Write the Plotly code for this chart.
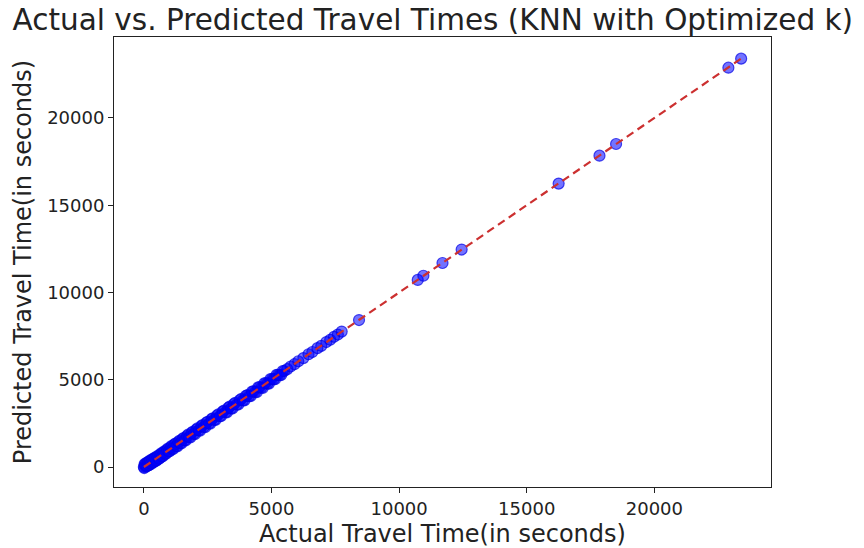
import plotly.graph_objects as go

# Actual vs predicted travel times (seconds)
actual = [0, 30, 60, 90, 130, 170, 210, 250, 300, 350, 400, 450, 500, 560, 620, 680, 740, 800,
          870, 940, 1010, 1080, 1150, 1230, 1310, 1390, 1470, 1550, 1640, 1730, 1820, 1910, 2000,
          2100, 2200, 2300, 2400, 2500, 2600, 2700, 2810, 2920, 3030, 3140, 3250, 3360, 3470,
          3580, 3700, 3820, 3940, 4060, 4180, 4300, 4420, 4540, 4660, 4780, 4900, 5020, 5140,
          5260, 5380, 5500, 5620, 5750, 5900, 6050, 6250, 6450, 6600, 6800, 6950, 7150, 7300,
          7450, 7600, 7750, 8430, 10730, 10950, 11700, 12450, 16250, 17850, 18500, 22900, 23400,
          15, 45, 110, 150, 190, 230, 275, 325, 375, 425, 475, 530, 590, 650, 710, 770, 835,
          905, 975, 1045, 1115, 1190, 1270, 1350, 1430, 1510, 1595, 1685, 1775, 1865, 1955,
          2050, 2150, 2250, 2350, 2450, 2550, 2650, 2755, 2865, 2975, 3085, 3195, 3305, 3415,
          3525, 3640, 3760, 3880, 4000, 4120, 4240, 4360, 4480, 4600, 4720, 4840, 4960, 5080,
          5200, 5320, 5440]
predicted = [0, 170, 20, 230, 60, 300, 120, 380, 190, 460, 300, 560, 380, 650, 500, 780, 620, 900,
             760, 1050, 900, 1200, 1030, 1340, 1180, 1500, 1350, 1660, 1520, 1850, 1690, 2020, 1880,
             2210, 2080, 2400, 2280, 2590, 2480, 2790, 2700, 3020, 2920, 3230, 3130, 3460, 3350,
             3680, 3580, 3900, 3820, 4120, 4060, 4340, 4290, 4580, 4530, 4810, 4780, 5040, 5030,
             5280, 5270, 5500, 5610, 5760, 5890, 6060, 6240, 6460, 6590, 6810, 6940, 7160, 7290,
             7460, 7590, 7760, 8420, 10720, 10960, 11690, 12460, 16240, 17840, 18510, 22880, 23400,
             -60, 120, 40, 250, 110, 330, 200, 420, 280, 500, 360, 580, 470, 720, 610, 840, 760,
             980, 900, 1120, 1050, 1280, 1200, 1430, 1370, 1600, 1530, 1770, 1720, 1950, 1900,
             2140, 2100, 2340, 2300, 2540, 2490, 2740, 2700, 2950, 2910, 3170, 3140, 3390, 3360,
             3610, 3580, 3840, 3820, 4080, 4060, 4320, 4300, 4560, 4540, 4800, 4780, 5040, 5020,
             5280, 5260, 5500]
line_ends = [0, 23400]

x_ticks = [0, 5000, 10000, 15000, 20000]
y_ticks = [0, 5000, 10000, 15000, 20000]

title_text = "Actual vs. Predicted Travel Times (KNN with Optimized k)"
x_title = "Actual Travel Time(in seconds)"
y_title = "Predicted Travel Time(in seconds)"

font_family = "DejaVu Sans"

fig = go.Figure()
fig.add_trace(go.Scatter(
    x=actual, y=predicted, mode="markers",
    marker=dict(size=11, color="rgba(0,0,255,0.55)",
                line=dict(width=1.2, color="rgba(0,0,230,0.7)")),
    showlegend=False, hoverinfo="skip"))
fig.add_trace(go.Scatter(
    x=line_ends, y=line_ends, mode="lines",
    line=dict(color="#cc3030", width=2.2, dash="8px,5px"),
    showlegend=False, hoverinfo="skip"))

x_range = [-1170, 24570]
y_range = [-1146, 24640]

axis_common = dict(
    showgrid=False, zeroline=False, showline=True, linecolor="#222", linewidth=1,
    mirror=True, ticks="outside", ticklen=5, tickwidth=1, tickcolor="#222",
    automargin=False,
    tickfont=dict(family=font_family, size=18, color="#222"),
)

# The page adds an 8px body margin, so the figure is drawn at (8, 8).
fig.update_layout(
    width=848, height=540,
    margin=dict(l=106, r=85, t=29, b=61),
    paper_bgcolor="white", plot_bgcolor="white",
    title=dict(text=title_text, x=0.501, xanchor="center", y=0.978, yanchor="middle",
               font=dict(family=font_family, size=29.5, color="#222")),
    xaxis=dict(range=x_range, tickvals=x_ticks, ticktext=[str(v) for v in x_ticks],
               title=dict(text=x_title, standoff=16,
                          font=dict(family=font_family, size=24, color="#222")),
               **axis_common),
    yaxis=dict(range=y_range, tickvals=y_ticks, ticktext=[str(v) for v in y_ticks],
               title=dict(text=y_title, standoff=8,
                          font=dict(family=font_family, size=24, color="#222")),
               **axis_common),
)

fig.write_html("out.html")
